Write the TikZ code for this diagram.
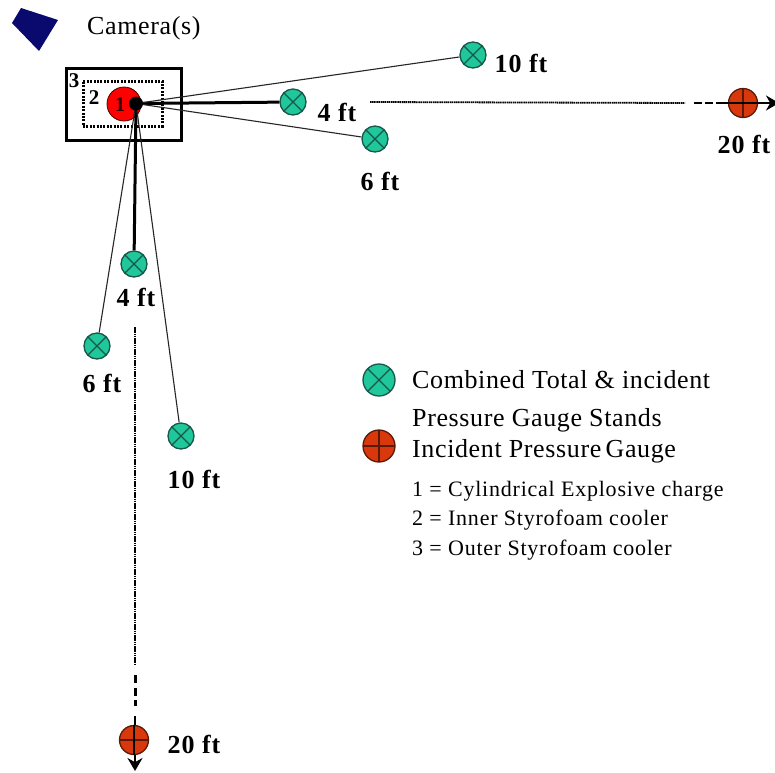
\documentclass[tikz,border=0pt]{standalone}
\usepackage{fontspec}
\setmainfont{Liberation Serif}
\newfontfamily\spaced[LetterSpace=2.4]{Liberation Serif}
\newfontfamily\spacedk[LetterSpace=3.5]{Liberation Serif}
\usetikzlibrary{arrows.meta}
\definecolor{gaugeG}{HTML}{1FC79A}
\definecolor{gaugeR}{HTML}{D8380C}
\definecolor{edgeG}{HTML}{17574A}
\definecolor{edgeR}{HTML}{5A1A08}
\definecolor{camblue}{HTML}{0A0A6E}
\tikzset{
  x=1pt,y=-1pt,
  gaugeX/.style={circle,draw=edgeG,line width=1.3pt,fill=gaugeG,minimum size=26pt,inner sep=0pt,
    path picture={\draw[edgeG,line width=1.1pt]
      (path picture bounding box.north west)--(path picture bounding box.south east)
      (path picture bounding box.north east)--(path picture bounding box.south west);}},
  gaugeP/.style={circle,draw=edgeR,line width=1.3pt,fill=gaugeR,minimum size=29pt,inner sep=0pt,
    path picture={\draw[edgeR,line width=1.1pt]
      (path picture bounding box.north)--(path picture bounding box.south)
      (path picture bounding box.west)--(path picture bounding box.east);}},
  dist/.style={font=\spacedk\fontsize{26}{26}\selectfont\bfseries,inner sep=0pt},
  legend/.style={font=\spaced\fontsize{26}{26}\selectfont,inner sep=0pt,anchor=base west},
  key/.style={font=\spacedk\fontsize{22}{22}\selectfont,inner sep=0pt,anchor=base west},
  digit/.style={font=\fontsize{21}{21}\selectfont\bfseries,inner sep=0pt},
  thinray/.style={line width=1.1pt,black!85},
  thickray/.style={line width=3pt,black},
  tip/.style={-{Stealth[length=13pt,width=15pt]},line width=2.2pt,black},
}
\begin{document}
\begin{tikzpicture}
\useasboundingbox (0,0) rectangle (775,772);
\fill[white] (0,0) rectangle (775,772);
% camera
\fill[camblue] (21,8) -- (58,20) -- (39,51) -- (12,23) -- cycle;
\node[font=\spaced\fontsize{26}{26}\selectfont,inner sep=0pt,anchor=base west] (cam) at (87,34) {Camera(s)};
% coolers
\node[draw,line width=3pt,minimum width=115pt,minimum height=72pt,inner sep=0pt] (outer) at (123.5,104) {};
\node[draw,line width=3pt,dash pattern=on 2pt off 1.4pt,minimum width=79pt,minimum height=45pt,inner sep=0pt] (inner) at (122.5,103.5) {};
\node[digit] (n3) at (74,81) {3};
\node[digit] (n2) at (94,98) {2};
\node[circle,fill=red,draw=black!70!red,line width=.8pt,minimum size=34pt,inner sep=0pt] (charge) at (124,104) {};
\node[digit,text=black!80!red] (n1) at (120,105) {1};
\coordinate (hub) at (136,103.5);
% gauges
\node[gaugeX] (g4e) at (293,102) {};
\node[gaugeX] (g6e) at (375,139) {};
\node[gaugeX] (g10e) at (473,55) {};
\node[gaugeX] (g4s) at (134,264) {};
\node[gaugeX] (g6s) at (97,346) {};
\node[gaugeX] (g10s) at (181,436) {};
% rays
\draw[thickray] (hub) -- (g4e);
\draw[thinray] (hub) -- (g6e);
\draw[thinray] (hub) -- (g10e);
\draw[thickray] (hub) -- (g4s);
\draw[thinray] (hub) -- (g6s);
\draw[thinray] (hub) -- (g10s);
\fill[black] (hub) circle (7pt);
% long lines
\coordinate (e1) at (370,102);
\coordinate (e2) at (685,103);
\coordinate (e3) at (694,103);
\coordinate (e4) at (720,103);
\coordinate (eend) at (779,103);
\draw[black,line width=1.8pt,dash pattern=on 1.5pt off .6pt] (e1) -- (e2);
\draw[black,line width=2.4pt,dash pattern=on 8pt off 3pt] (e3) -- (e4);
\draw[tip] (e4) -- (eend);
\coordinate (s1) at (135,327);
\coordinate (s2) at (135,664);
\coordinate (s3) at (135,675);
\coordinate (s3b) at (135,706);
\coordinate (s4) at (135,716);
\coordinate (send) at (135,771);
\draw[black,line width=1.8pt,dash pattern=on 1.5pt off .7pt] (s1) -- (s2);
\draw[black,line width=3pt,dash pattern=on 8pt off 4.5pt] (s3) -- (s3b);
\draw[tip] (s4) -- (send);
\node[gaugeP] (g20e) at (743,103) {};
\node[gaugeP] (g20s) at (134,740) {};
\draw[black,line width=1.6pt] (g20e.west) -- (g20e.east);
\draw[black,line width=1.6pt] (g20s.north) -- (g20s.south);
% distance labels
\node[dist] (l10e) at (521,63) {10 ft};
\node[dist] (l4e) at (337,112) {4 ft};
\node[dist] (l6e) at (380,181) {6 ft};
\node[dist] (l20e) at (744,144) {20 ft};
\node[dist] (l4s) at (136,297) {4 ft};
\node[dist] (l6s) at (102,383) {6 ft};
\node[dist] (l10s) at (194,479) {10 ft};
\node[dist] (l20s) at (194,744) {20 ft};
% legend
\node[gaugeX,minimum size=32pt] (lgG) at (379,380) {};
\node[gaugeP,minimum size=32pt] (lgR) at (379,446) {};
\node[legend] (t1) at (412,388) {Combined Total \& incident};
\node[legend] (t2) at (412,426) {Pressure Gauge Stands};
\node[legend] (t3) at (412,457) {Incident Pressure\,Gauge};
\node[key] (k1) at (412,496) {1 = Cylindrical Explosive charge};
\node[key] (k2) at (412,525) {2 = Inner Styrofoam cooler};
\node[key] (k3) at (412,555) {3 = Outer Styrofoam cooler};
\end{tikzpicture}
\end{document}
